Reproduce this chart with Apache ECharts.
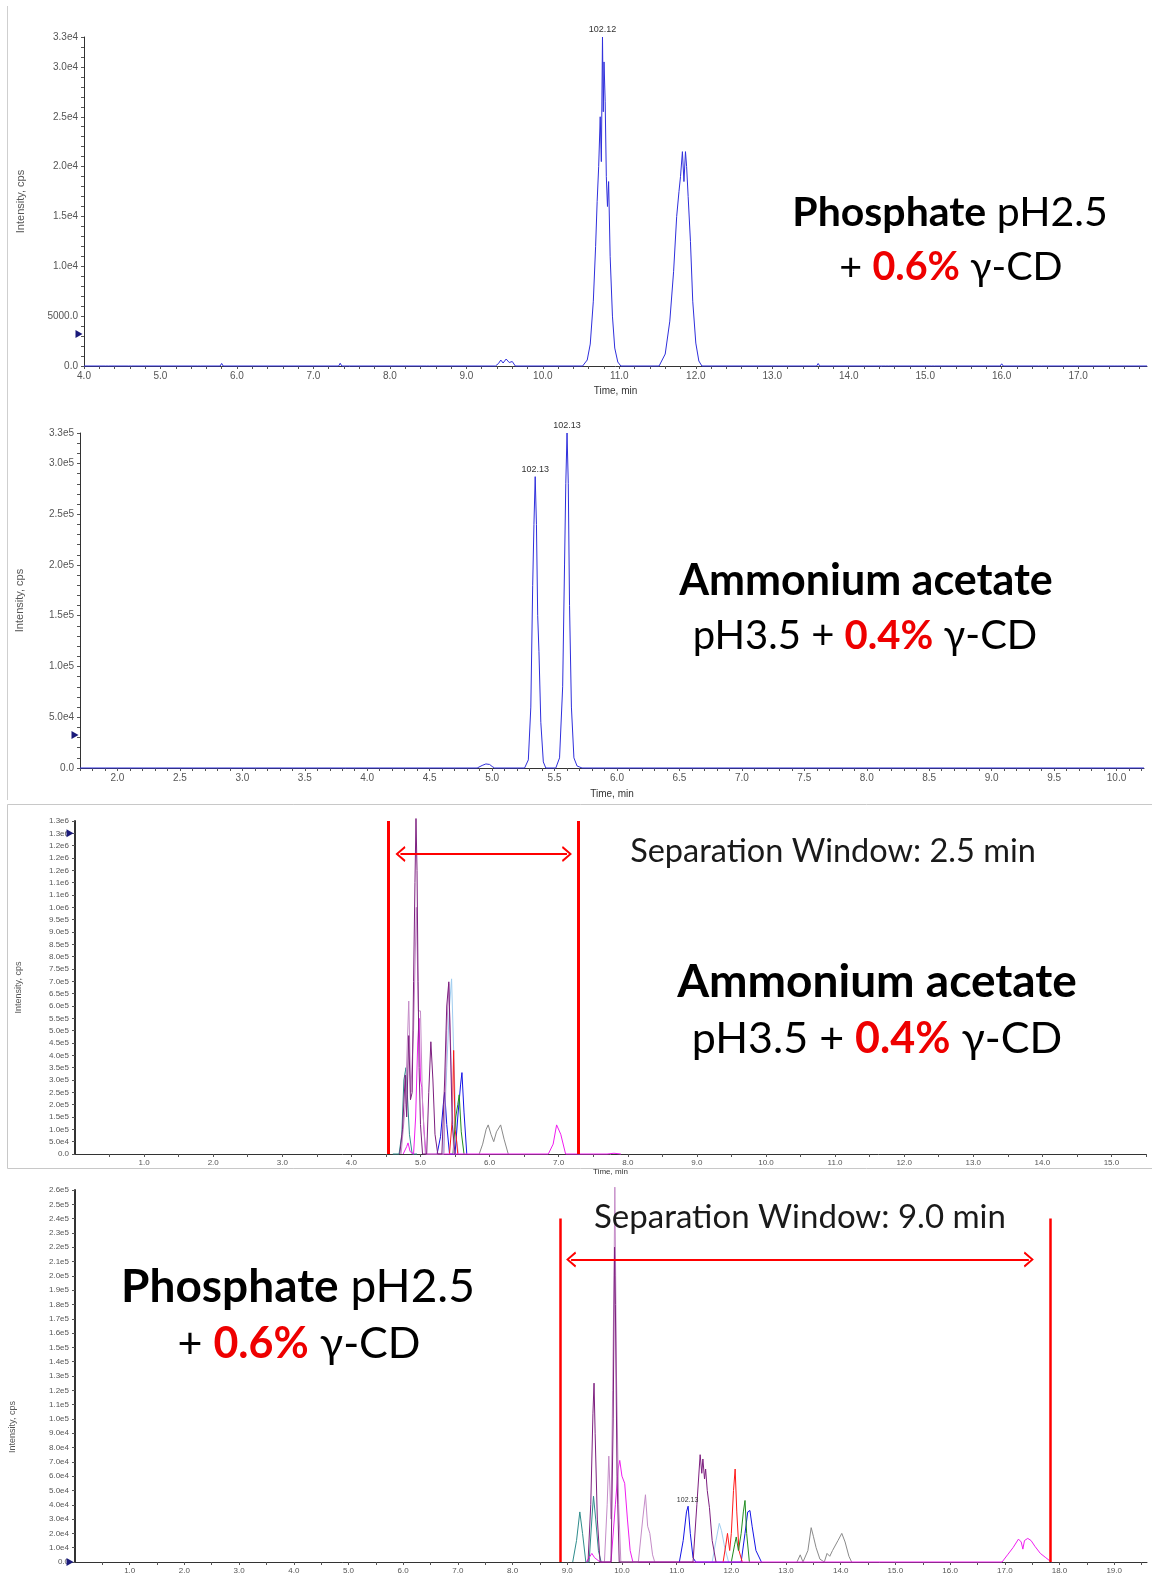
<!DOCTYPE html>
<html>
<head>
<meta charset="utf-8">
<script src="https://cdn.jsdelivr.net/npm/echarts@6/dist/echarts.min.js"></script>
<style>
html,body{margin:0;padding:0;background:#fff;}
#chart{width:1152px;height:1577px;}
</style>
</head>
<body>
<div id="chart"></div>
<script>
// ---------- Panel 1: Phosphate pH2.5 + 0.6% γ-CD (single trace) ----------
const p1Trace = [[4.0,0],[4.28,0],[4.3,120],[4.32,0],[4.58,0],[4.6,180],[4.62,0],[4.98,0],[5.0,100],[5.02,0],[5.48,0],[5.5,150],[5.52,0],[5.78,0],[5.8,260],[5.82,0],[6.38,0],[6.4,120],[6.42,0],[6.68,0],[6.7,200],[6.72,0],[7.33,0],[7.35,280],[7.37,0],[7.78,0],[7.8,160],[7.82,0],[8.48,0],[8.5,130],[8.52,0],[9.38,0],[9.42,250],[9.45,600],[9.48,300],[9.52,700],[9.56,350],[9.6,450],[9.64,0],
 [10.52,0],[10.58,600],[10.62,2200],[10.66,6500],[10.69,12000],[10.71,16500],[10.73,20000],[10.75,25000],[10.765,20500],[10.78,33000],[10.79,25500],[10.80,30500],[10.815,26500],[10.83,19000],[10.845,16000],[10.86,18500],[10.88,11000],[10.91,5000],[10.94,1800],[10.98,400],[11.02,0],
 [11.52,0],[11.6,1200],[11.66,4500],[11.71,9500],[11.75,15000],[11.78,17500],[11.8,19000],[11.825,21500],[11.845,18500],[11.865,21500],[11.88,20000],[11.9,17000],[11.93,12500],[11.96,6500],[12.0,2300],[12.04,500],[12.08,0],
 [13.58,0],[13.6,250],[13.62,0],[14.48,0],[14.5,150],[14.52,0],[15.08,0],[15.1,200],[15.12,0],[15.98,0],[16.0,220],[16.02,0],[16.48,0],[16.5,150],[16.52,0],[17.18,0],[17.2,180],[17.22,0],[17.48,0],[17.5,120],[17.52,0],[17.9,0]];
const p1XTicks = [4,5,6,7,8,9,10,11,12,13,14,15,16,17];
const p1XLabels = ['4.0','5.0','6.0','7.0','8.0','9.0','10.0','11.0','12.0','13.0','14.0','15.0','16.0','17.0'];
const p1YTicks = [0,5000,10000,15000,20000,25000,30000,33000];
const p1YLabels = ['0.0','5000.0','1.0e4','1.5e4','2.0e4','2.5e4','3.0e4','3.3e4'];

// ---------- Panel 2: Ammonium acetate pH3.5 + 0.4% γ-CD (single trace) ----------
const p2Trace = [[1.7,0],[4.88,0],[4.92,2500],[4.95,4000],[4.98,3500],[5.0,1500],[5.02,0],[5.26,0],[5.29,8000],[5.31,60000],[5.325,180000],[5.335,240000],[5.345,287000],[5.355,240000],[5.365,150000],[5.375,115000],[5.39,45000],[5.41,6000],[5.43,0],
 [5.51,0],[5.54,10000],[5.565,80000],[5.58,200000],[5.59,280000],[5.6,330000],[5.61,280000],[5.62,160000],[5.635,60000],[5.655,10000],[5.68,2000],[5.72,0],[10.22,0]];
const p2XTicks = [2,2.5,3,3.5,4,4.5,5,5.5,6,6.5,7,7.5,8,8.5,9,9.5,10];
const p2XLabels = ['2.0','2.5','3.0','3.5','4.0','4.5','5.0','5.5','6.0','6.5','7.0','7.5','8.0','8.5','9.0','9.5','10.0'];
const p2YTicks = [0,50000,100000,150000,200000,250000,300000,330000];
const p2YLabels = ['0.0','5.0e4','1.0e5','1.5e5','2.0e5','2.5e5','3.0e5','3.3e5'];

// ---------- Panel 3: Ammonium acetate, all analytes ----------
const p3Teal = [[4.6,0],[4.69,0],[4.73,80000],[4.76,300000],[4.79,350000],[4.81,240000],[4.84,80000],[4.88,0],[4.95,0]];
const p3LightBlue = [[5.33,0],[5.38,350000],[5.42,600000],[5.45,710000],[5.48,420000],[5.52,60000],[5.55,0]];
const p3Blue = [[5.24,0],[5.29,70000],[5.33,200000],[5.35,250000],[5.38,120000],[5.42,0],[5.5,0],[5.54,150000],[5.58,280000],[5.6,330000],[5.63,170000],[5.67,0]];
const p3Red = [[5.42,0],[5.46,140000],[5.48,420000],[5.5,100000],[5.52,60000],[5.54,0]];
const p3Green = [[5.47,0],[5.51,150000],[5.54,200000],[5.56,240000],[5.59,90000],[5.63,0]];
const p3Gray = [[5.85,0],[5.9,40000],[5.95,100000],[5.98,118000],[6.02,80000],[6.06,50000],[6.1,90000],[6.16,118000],[6.21,60000],[6.27,0]];
const p3Magenta = [[4.75,0],[4.8,30000],[4.82,45000],[4.85,10000],[4.9,0],[4.93,150000],[4.96,450000],[4.98,550000],[5.0,300000],[5.02,270000],[5.05,100000],[5.08,0],[6.85,0],[6.92,40000],[6.97,118000],[7.03,80000],[7.1,0],[7.7,0],[7.8,3000],[7.9,0]];
const p3LightPurple = [[4.72,0],[4.78,200000],[4.83,620000],[4.86,250000],[4.9,500000],[4.94,1000000],[4.97,580000],[5.0,580000],[5.03,200000],[5.07,0],[5.34,0],[5.38,500000],[5.41,690000],[5.44,400000],[5.48,0]];
const p3Purple = [[4.7,0],[4.74,100000],[4.78,320000],[4.8,150000],[4.83,480000],[4.855,220000],[4.88,250000],[4.9,700000],[4.92,1100000],[4.935,1360000],[4.95,1150000],[4.965,700000],[4.98,350000],[5.0,120000],[5.03,0],[5.09,0],[5.12,250000],[5.15,455000],[5.18,300000],[5.21,80000],[5.25,0],[5.31,0],[5.35,300000],[5.38,600000],[5.41,698000],[5.43,470000],[5.46,120000],[5.5,0]];
const p3XTicks = [1,2,3,4,5,6,7,8,9,10,11,12,13,14,15];
const p3XLabels = ['1.0','2.0','3.0','4.0','5.0','6.0','7.0','8.0','9.0','10.0','11.0','12.0','13.0','14.0','15.0'];
const p3YTicks = [0,50000,100000,150000,200000,250000,300000,350000,400000,450000,500000,550000,600000,650000,700000,750000,800000,850000,900000,950000,1000000,1050000,1100000,1150000,1200000,1250000,1300000,1350000];
const p3YLabels = ['0.0','5.0e4','1.0e5','1.5e5','2.0e5','2.5e5','3.0e5','3.5e5','4.0e5','4.5e5','5.0e5','5.5e5','6.0e5','6.5e5','7.0e5','7.5e5','8.0e5','8.5e5','9.0e5','9.5e5','1.0e6','1.1e6','1.1e6','1.2e6','1.2e6','1.2e6','1.3e6','1.3e6'];
const p3Window = [4.53, 7.29];        // separation window limits (min)
const p3Arrow = [4.71, 7.12, 1216000]; // arrow start, end, height

// ---------- Panel 4: Phosphate, all analytes ----------
const p4Teal = [[9.1,0],[9.17,15000],[9.23,35000],[9.28,20000],[9.34,0],[9.4,0],[9.45,30000],[9.48,46000],[9.52,30000],[9.57,8000],[9.62,0]];
const p4LightBlue = [[11.65,0],[11.72,15000],[11.78,27000],[11.82,22000],[11.88,10000],[11.95,0]];
const p4Blue = [[11.05,0],[11.12,15000],[11.18,35000],[11.21,39000],[11.25,20000],[11.3,3000],[11.35,0],[12.18,0],[12.25,20000],[12.3,35000],[12.34,36000],[12.38,25000],[12.45,8000],[12.55,0]];
const p4Red = [[11.85,0],[11.9,12000],[11.93,20000],[11.97,8000],[12.0,20000],[12.04,50000],[12.07,65000],[12.1,35000],[12.14,8000],[12.2,0]];
const p4Green = [[12.0,0],[12.06,12000],[12.09,17500],[12.13,8000],[12.18,20000],[12.22,35000],[12.25,43000],[12.28,20000],[12.33,0]];
const p4Gray = [[13.2,0],[13.26,5000],[13.31,0],[13.4,8000],[13.46,24000],[13.5,18000],[13.55,10000],[13.62,2000],[13.7,0],[13.75,6000],[13.8,4000],[13.85,8000],[13.95,15000],[14.02,20000],[14.08,14000],[14.15,4000],[14.2,0]];
const p4Magenta = [[9.35,0],[9.45,6000],[9.5,3000],[9.6,0],[9.8,0],[9.88,40000],[9.93,65000],[9.96,71000],[10.0,60000],[10.05,55000],[10.1,30000],[10.15,8000],[10.2,0],[16.95,0],[17.05,5000],[17.15,10000],[17.25,16000],[17.3,14000],[17.33,9000],[17.36,15000],[17.42,16500],[17.48,15000],[17.55,11000],[17.65,6000],[17.75,3000],[17.85,0]];
const p4LightPurple = [[9.68,0],[9.73,40000],[9.76,74000],[9.8,30000],[9.83,120000],[9.855,200000],[9.87,262000],[9.885,200000],[9.9,130000],[9.94,40000],[9.98,0],[10.3,0],[10.38,30000],[10.43,47000],[10.47,25000],[10.51,20000],[10.56,5000],[10.6,0]];
const p4Purple = [[9.38,0],[9.43,40000],[9.47,104000],[9.49,125000],[9.51,90000],[9.55,30000],[9.6,0],[9.8,0],[9.84,100000],[9.865,220000],[9.88,180000],[9.91,60000],[9.95,0],[11.3,0],[11.37,40000],[11.43,75000],[11.46,62000],[11.48,72000],[11.51,58000],[11.53,65000],[11.56,50000],[11.6,38000],[11.65,15000],[11.72,0]];
const p4XTicks = [1,2,3,4,5,6,7,8,9,10,11,12,13,14,15,16,17,18,19];
const p4XLabels = ['1.0','2.0','3.0','4.0','5.0','6.0','7.0','8.0','9.0','10.0','11.0','12.0','13.0','14.0','15.0','16.0','17.0','18.0','19.0'];
const p4YTicks = [0,10000,20000,30000,40000,50000,60000,70000,80000,90000,100000,110000,120000,130000,140000,150000,160000,170000,180000,190000,200000,210000,220000,230000,240000,250000,260000];
const p4YLabels = ['0.0','1.0e4','2.0e4','3.0e4','4.0e4','5.0e4','6.0e4','7.0e4','8.0e4','9.0e4','1.0e5','1.1e5','1.2e5','1.3e5','1.4e5','1.5e5','1.6e5','1.7e5','1.8e5','1.9e5','2.0e5','2.1e5','2.2e5','2.3e5','2.4e5','2.5e5','2.6e5'];
const p4Window = [8.87, 17.83];
const p4Arrow = [9.07, 17.44, 211400];

// ---------- helpers ----------
const C = {purple:'#7d1f7f', lpurple:'#c58cc8', magenta:'#f01cf0', teal:'#2e8c8c', blue:'#1414e6', lblue:'#9fcdf0', red:'#ff1a1a', green:'#1f8c1f', gray:'#8a8a8a', trace:'#2f2fdc'};
function seq(a,b,s){const o=[];for(let v=a;v<=b+1e-9;v+=s)o.push(Math.round(v*1e6)/1e6);return o;}
function lookup(ticks,labels,v){let bi=0,bd=Infinity;ticks.forEach((t,i)=>{const d=Math.abs(t-v);if(d<bd){bd=d;bi=i;}});return labels[bi];}
const FONT='Liberation Sans';
function xAx(gi,min,max,ticks,labels,tickVals,fs,nameGap){
  return {type:'value',gridIndex:gi,min,max,
    axisLine:{show:true,onZero:false,lineStyle:{color:'#333',width:1}},
    axisTick:{show:true,customValues:tickVals,length:3,lineStyle:{color:'#555'}},
    axisLabel:{customValues:ticks,formatter:v=>lookup(ticks,labels,v),fontSize:fs,color:'#555',fontFamily:FONT,margin:5},
    splitLine:{show:false},
    name:'Time, min',nameLocation:'middle',nameGap,nameTextStyle:{fontSize:fs,color:'#333',fontFamily:FONT}};
}
function yAx(gi,max,ticks,labels,tickVals,fs,lw,name,nameGap){
  return {type:'value',gridIndex:gi,min:0,max,
    axisLine:{show:true,onZero:false,lineStyle:{color:'#333',width:lw}},
    axisTick:{show:true,customValues:tickVals,length:3,lineStyle:{color:'#555'}},
    axisLabel:{customValues:ticks,formatter:v=>lookup(ticks,labels,v),fontSize:fs,color:'#555',fontFamily:FONT,margin:6},
    splitLine:{show:false},
    name:name,nameLocation:'middle',nameRotate:90,nameGap,nameTextStyle:{fontSize:fs+1,color:'#555',fontFamily:FONT}};
}
function line(gi,data,color,extra){
  return Object.assign({type:'line',xAxisIndex:gi,yAxisIndex:gi,data,symbol:'none',showSymbol:false,
    lineStyle:{color,width:1},itemStyle:{color},animation:false,clip:false,silent:true,z:2},extra||{});
}
function tri(x,y){return {coord:[x,y],symbol:'triangle',symbolSize:[8,7],symbolRotate:-90,symbolOffset:[-5,0],itemStyle:{color:'#1a1a7a'},label:{show:false}};}
function peakLabel(x,y,txt,fs){return {coord:[x,y],symbol:'rect',symbolSize:1,itemStyle:{color:'rgba(0,0,0,0)'},label:{show:true,position:'top',distance:2,formatter:txt,fontSize:fs,color:'#333',fontFamily:FONT}};}
const chevron='path://M0,11 L10,0 L20,11 L17.5,12 L10,3.5 L2.5,12 Z';
function vLines(xs,y0,y1,w){return {silent:true,symbol:['none','none'],label:{show:false},lineStyle:{color:'#ff0000',width:w,type:'solid'},emphasis:{disabled:true},
  data:xs.map(x=>[{coord:[x,y0]},{coord:[x,y1]}])};}
function arrow(a,w){return {silent:true,symbol:[chevron,chevron],symbolSize:[16,10],label:{show:false},lineStyle:{color:'#ff0000',width:w,type:'solid'},emphasis:{disabled:true},
  data:[[{coord:[a[0],a[2]]},{coord:[a[1],a[2]]}]]};}

const chart = echarts.init(document.getElementById('chart'), null, {renderer:'canvas'});

function txt(x,y,text,rich,opts){
  return Object.assign({type:'text',x,y,z:100,style:{text,rich,align:'center',verticalAlign:'middle',textAlign:'center',textVerticalAlign:'middle',fill:'#000',font:'40px Lato'}},opts||{});
}
function rs(size){
  return {
    b:{fontFamily:'Lato',fontWeight:'bold',fontSize:size,fill:'#000',color:'#000'},
    n:{fontFamily:'Lato',fontWeight:'normal',fontSize:size,fill:'#000',color:'#000'},
    r:{fontFamily:'Lato',fontWeight:'bold',fontSize:size,fill:'#ee0000',color:'#ee0000'},
    s:{fontFamily:'Lato',fontWeight:'normal',fontSize:size,fill:'#1a1a1a',color:'#1a1a1a'}
  };
}

const option = {
  backgroundColor:'#ffffff',
  animation:false,
  grid:[
    {left:84,top:37,width:1063,height:329,outerBoundsMode:'none',containLabel:false},
    {left:80,top:433,width:1064,height:335,outerBoundsMode:'none',containLabel:false},
    {left:75,top:821,width:1071,height:333,outerBoundsMode:'none',containLabel:false},
    {left:75,top:1190,width:1072,height:372,outerBoundsMode:'none',containLabel:false}
  ],
  xAxis:[
    xAx(0,4,17.9,p1XTicks,p1XLabels,seq(4,17.8,0.2),10,20),
    xAx(1,1.7,10.22,p2XTicks,p2XLabels,seq(1.7,10.2,0.1),10,21),
    xAx(2,0,15.5,p3XTicks,p3XLabels,seq(0.5,15.5,0.5),8,7),
    xAx(3,0,19.6,p4XTicks,p4XLabels,seq(0.5,19.5,0.5),8,9)
  ],
  yAxis:[
    yAx(0,33000,p1YTicks,p1YLabels,seq(0,33000,1000),10,1,'Intensity, cps',58),
    yAx(1,330000,p2YTicks,p2YLabels,seq(0,330000,10000),10,1,'Intensity, cps',55),
    yAx(2,1350000,p3YTicks,p3YLabels,p3YTicks,8,2,'Intensity, cps',52),
    yAx(3,260000,p4YTicks,p4YLabels,p4YTicks,8,2,'',52)
  ],
  series:[
    line(0,p1Trace,C.trace,{markPoint:{silent:true,animation:false,data:[peakLabel(10.78,33000,'102.12',9),tri(4.0,3200)]}}),
    line(1,p2Trace,C.trace,{markPoint:{silent:true,animation:false,data:[peakLabel(5.345,287000,'102.13',9),peakLabel(5.6,330000,'102.13',9),tri(1.7,32500)]}}),

    line(2,p3Teal,C.teal,{markPoint:{silent:true,animation:false,data:[tri(0,1300000)]}}),
    line(2,p3LightBlue,C.lblue),
    line(2,p3Blue,C.blue),
    line(2,p3Red,C.red),
    line(2,p3Green,C.green),
    line(2,p3Gray,C.gray,{markLine:vLines(p3Window,0,1350000,3)}),
    line(2,p3Magenta,C.magenta,{markLine:arrow(p3Arrow,2)}),
    line(2,p3LightPurple,C.lpurple),
    line(2,p3Purple,C.purple),

    line(3,p4Teal,C.teal,{markPoint:{silent:true,animation:false,data:[tri(0,0)]}}),
    line(3,p4LightBlue,C.lblue),
    line(3,p4Blue,C.blue,{markPoint:{silent:true,animation:false,data:[peakLabel(11.2,39000,'102.13',7)]}}),
    line(3,p4Red,C.red),
    line(3,p4Green,C.green),
    line(3,p4Gray,C.gray,{markLine:vLines(p4Window,0,240000,2.5)}),
    line(3,p4Magenta,C.magenta,{markLine:arrow(p4Arrow,2)}),
    line(3,p4LightPurple,C.lpurple),
    line(3,p4Purple,C.purple)
  ],
  graphic:[
    {type:'line',shape:{x1:7.5,y1:6,x2:7.5,y2:800},style:{stroke:'#cfcfcf',lineWidth:1},z:0},
    {type:'rect',shape:{x:7.5,y:804.5,width:1160,height:364},style:{stroke:'#c8c8c8',fill:'none',lineWidth:1},z:0},
    txt(950,213,'{b|Phosphate}{n| pH2.5}',rs(41)),
    txt(951,267,'{n|+ }{r|0.6%}{n| γ-CD}',rs(39.5)),
    txt(866,581,'{b|Ammonium acetate}',rs(43)),
    txt(865,636,'{n|pH3.5 + }{r|0.4%}{n| γ-CD}',rs(40)),
    txt(833,852,'{s|Separation Window: 2.5 min}',rs(32.5)),
    txt(877,982,'{b|Ammonium acetate}',rs(46)),
    txt(877,1039,'{n|pH3.5 + }{r|0.4%}{n| γ-CD}',rs(43)),
    txt(800,1217,'{s|Separation Window: 9.0 min}',rs(33)),
    txt(298,1287,'{b|Phosphate}{n| pH2.5}',rs(46)),
    txt(299,1344,'{n|+ }{r|0.6%}{n| γ-CD}',rs(43)),
    {type:'text',x:13,y:1427,rotation:Math.PI/2,z:50,style:{text:'Intensity, cps',font:'9px "Liberation Sans"',fill:'#555',align:'center',verticalAlign:'middle',textAlign:'center',textVerticalAlign:'middle'}}
  ]
};
chart.setOption(option);
</script>
</body>
</html>
